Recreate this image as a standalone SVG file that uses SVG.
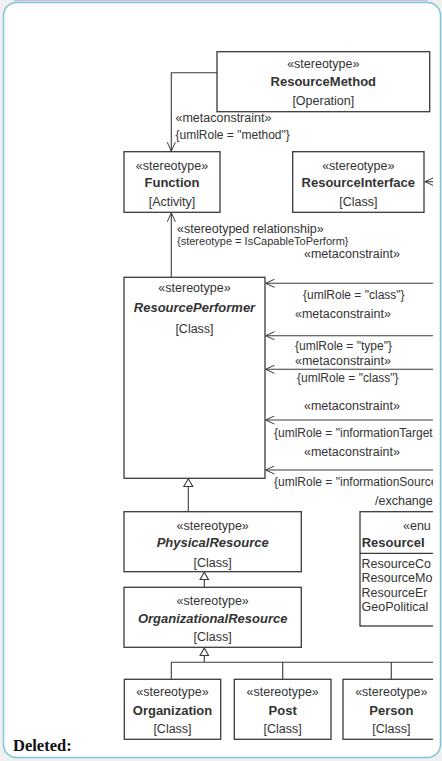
<svg xmlns="http://www.w3.org/2000/svg" width="442" height="761" viewBox="0 0 442 761">
  <defs>
    <style>
      .box { fill: #ffffff; stroke: #3a3a3a; stroke-width: 1.3; }
      .ln { fill: none; stroke: #3a3a3a; stroke-width: 1.1; }
      .tri { fill: #ffffff; stroke: #3a3a3a; stroke-width: 1.1; }
      text { font-family: "Liberation Sans", Arial, sans-serif; fill: #333333; }
      .st { font-size: 12.5px; }
      .nm { font-size: 13px; font-weight: bold; }
      .it { font-size: 13px; font-weight: bold; font-style: italic; }
      .lb { font-size: 12.5px; }
      .cs { font-size: 12px; }
      .mid { text-anchor: middle; }
    </style>
    <marker id="open" viewBox="0 0 10 10" refX="10" refY="5" markerWidth="9" markerHeight="9" orient="auto" markerUnits="userSpaceOnUse">
      <path d="M0,0.5 L10,5 L0,9.5" fill="none" stroke="#3a3a3a" stroke-width="1.1"/>
    </marker>
    <clipPath id="pane">
      <rect x="4" y="3" width="429" height="753"/>
    </clipPath>
  </defs>

  <!-- page background and frame -->
  <rect x="0" y="0" width="442" height="761" fill="#f0f0f0"/>
  <rect x="3.5" y="2.5" width="437" height="755" rx="13" ry="13" fill="#ffffff" stroke="#7fc6d6" stroke-width="1.5"/>
  <line x1="14" y1="0.6" x2="428" y2="0.6" stroke="#c9bde3" stroke-width="1.2"/>

  <g clip-path="url(#pane)">
    <!-- connectors -->
    <g id="connectors">
      <path class="ln" d="M217,72.7 H171.3 V151.2" marker-end="url(#open)"/>
      <path class="ln" d="M171.3,277.3 V212.8" marker-end="url(#open)"/>
      <path class="ln" d="M440,181.7 H424.8" marker-end="url(#open)"/>
      <path class="ln" d="M440,283.3 H265.5" marker-end="url(#open)"/>
      <path class="ln" d="M440,335.7 H265.5" marker-end="url(#open)"/>
      <path class="ln" d="M440,369.3 H265.5" marker-end="url(#open)"/>
      <path class="ln" d="M440,420 H265.5" marker-end="url(#open)"/>
      <path class="ln" d="M440,470 H265.5" marker-end="url(#open)"/>
      <!-- generalizations -->
      <path class="ln" d="M188.3,511.7 V486.5"/>
      <path class="tri" d="M188.3,478.8 L192.8,486.5 L183.8,486.5 Z"/>
      <path class="ln" d="M204.3,587.3 V579.5"/>
      <path class="tri" d="M204.3,572.2 L208.5,579.5 L200.1,579.5 Z"/>
      <path class="ln" d="M204.3,655.5 V662.3 M171.3,662.3 H440 M171.3,662.3 V679.3 M282.7,662.3 V679.3 M391.3,662.3 V679.3"/>
      <path class="tri" d="M204.3,648 L208.5,655.5 L200.1,655.5 Z"/>
      <!-- connector labels -->
      <text class="lb" x="175.5" y="121.5">«metaconstraint»</text>
      <text class="cs" x="175.5" y="139">{umlRole = "method"}</text>
      <text class="lb" x="177" y="232.5">«stereotyped relationship»</text>
      <text class="cs" x="177" y="245" style="font-size:11px">{stereotype = IsCapableToPerform}</text>
      <text class="lb" x="304" y="257.5">«metaconstraint»</text>
      <text class="cs" x="303" y="299">{umlRole = "class"}</text>
      <text class="lb" x="295" y="317.5">«metaconstraint»</text>
      <text class="cs" x="295" y="350">{umlRole = "type"}</text>
      <text class="lb" x="295" y="365">«metaconstraint»</text>
      <text class="cs" x="297" y="382">{umlRole = "class"}</text>
      <text class="lb" x="304" y="409.5">«metaconstraint»</text>
      <text class="cs" x="274" y="437">{umlRole = "informationTarget</text>
      <text class="lb" x="304" y="456">«metaconstraint»</text>
      <text class="cs" x="274" y="486">{umlRole = "informationSource</text>
      <text class="lb" x="375" y="504.5">/exchange</text>
    </g>

    <g id="resource-method">
      <rect class="box" x="217" y="51.7" width="212.7" height="60"/>
      <text class="st mid" x="323.3" y="67.5">«stereotype»</text>
      <text class="nm mid" x="323.3" y="86">ResourceMethod</text>
      <text class="st mid" x="323.3" y="104.5">[Operation]</text>
    </g>

    <g id="function">
      <rect class="box" x="124" y="151.7" width="96" height="60.6"/>
      <text class="st mid" x="172" y="169.5">«stereotype»</text>
      <text class="nm mid" x="172" y="186.5">Function</text>
      <text class="st mid" x="172" y="205.5">[Activity]</text>
    </g>

    <g id="resource-interface">
      <rect class="box" x="292.7" y="151.7" width="131.3" height="60.6"/>
      <text class="st mid" x="358.3" y="169.5">«stereotype»</text>
      <text class="nm mid" x="358.3" y="186.5">ResourceInterface</text>
      <text class="st mid" x="358.3" y="205.5">[Class]</text>
    </g>

    <g id="resource-performer">
      <rect class="box" x="124" y="277.3" width="141" height="201"/>
      <text class="st mid" x="194.5" y="291.5">«stereotype»</text>
      <text class="it mid" x="194.5" y="312">ResourcePerformer</text>
      <text class="st mid" x="194.5" y="332.5">[Class]</text>
    </g>

    <g id="physical-resource">
      <rect class="box" x="124" y="511.7" width="177.3" height="60"/>
      <text class="st mid" x="212.7" y="529.5">«stereotype»</text>
      <text class="it mid" x="212.7" y="547">PhysicalResource</text>
      <text class="st mid" x="212.7" y="567">[Class]</text>
    </g>

    <g id="organizational-resource">
      <rect class="box" x="124" y="587.3" width="177.3" height="60"/>
      <text class="st mid" x="212.7" y="604.5">«stereotype»</text>
      <text class="it mid" x="212.7" y="623">OrganizationalResource</text>
      <text class="st mid" x="212.7" y="641">[Class]</text>
    </g>

    <g id="enumeration">
      <rect class="box" x="360" y="511.7" width="100" height="114.3"/>
      <line class="ln" x1="360" y1="553.3" x2="440" y2="553.3" style="stroke-width:1.3"/>
      <text class="st" x="403" y="529.5">«enu</text>
      <text class="nm" x="361.7" y="547">ResourceI</text>
      <text class="st" x="361.5" y="567.5">ResourceCo</text>
      <text class="st" x="361.5" y="582">ResourceMo</text>
      <text class="st" x="361.5" y="596.5">ResourceEr</text>
      <text class="st" x="361.5" y="611">GeoPolitical</text>
    </g>

    <g id="organization">
      <rect class="box" x="124.3" y="679.3" width="96.4" height="60"/>
      <text class="st mid" x="172.5" y="696">«stereotype»</text>
      <text class="nm mid" x="172.5" y="714.5">Organization</text>
      <text class="st mid" x="172.5" y="733">[Class]</text>
    </g>

    <g id="post">
      <rect class="box" x="234.3" y="679.3" width="96.7" height="60"/>
      <text class="st mid" x="282.7" y="696">«stereotype»</text>
      <text class="nm mid" x="282.7" y="714.5">Post</text>
      <text class="st mid" x="282.7" y="733">[Class]</text>
    </g>

    <g id="person">
      <rect class="box" x="343" y="679.3" width="97" height="60"/>
      <text class="st mid" x="391.3" y="696">«stereotype»</text>
      <text class="nm mid" x="391.3" y="714.5">Person</text>
      <text class="st mid" x="391.3" y="733">[Class]</text>
    </g>
  </g>

  <text x="13" y="751" style="font-family:'Liberation Serif','Times New Roman',serif;font-size:16.5px;font-weight:bold;fill:#111111">Deleted:</text>
</svg>
